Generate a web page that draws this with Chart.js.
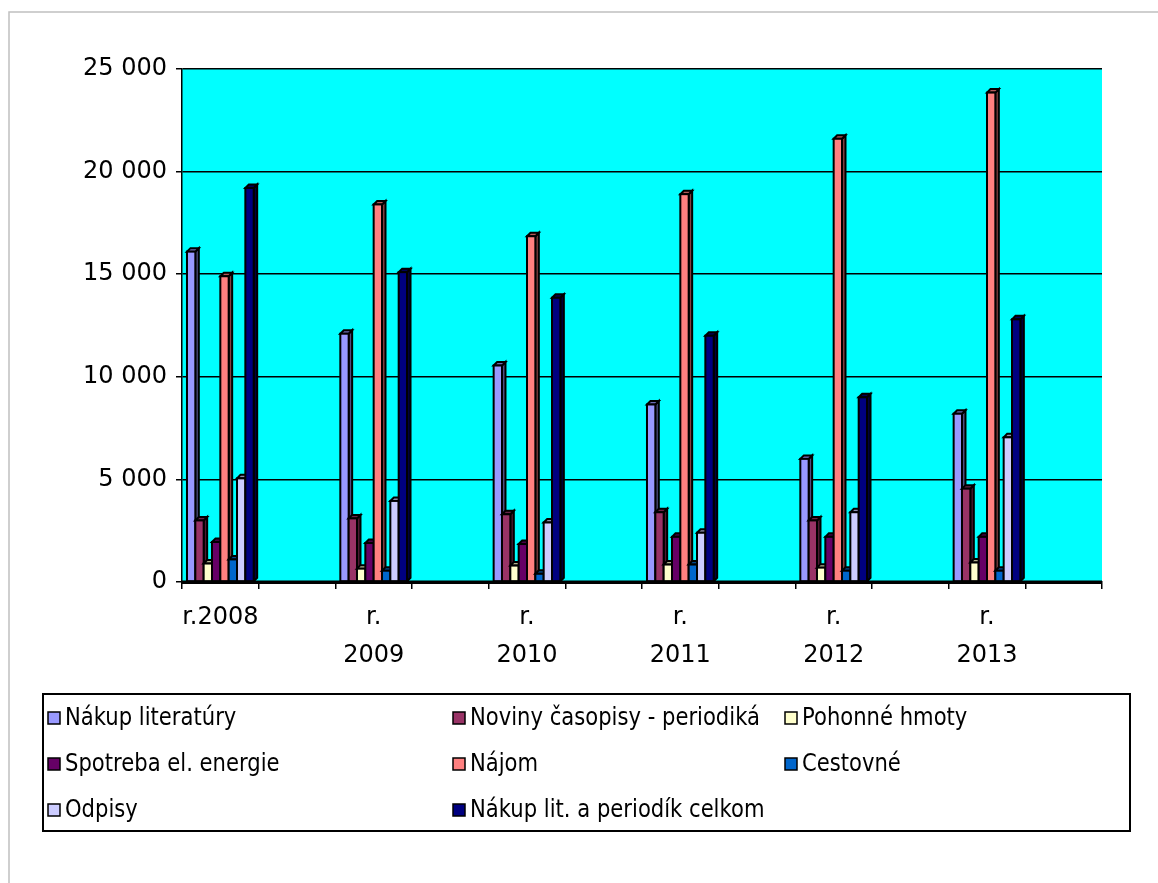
<!DOCTYPE html>
<html>
<head>
<meta charset="utf-8">
<script src="https://cdn.jsdelivr.net/npm/chart.js@4"></script>
<style>
  html, body { margin: 0; padding: 0; background: #ffffff; }
  #wrap { width: 1158px; height: 883px; position: relative; }
</style>
</head>
<body>
<div id="wrap"><canvas id="c" width="1158" height="883"></canvas></div>
<script>
// ---- data ----
const years = ["r.2008", "r. 2009", "r. 2010", "r. 2011", "r. 2012", "r. 2013"];
const seriesNames = [
  "Nákup literatúry",
  "Noviny časopisy - periodiká",
  "Pohonné hmoty",
  "Spotreba el. energie",
  "Nájom",
  "Cestovné",
  "Odpisy",
  "Nákup lit. a periodík celkom"
];
const nakupLiteratury = [16100, 12100, 10550, 8650, 6000, 8200];
const novinyCasopisy  = [3000, 3100, 3300, 3400, 3000, 4550];
const pohonneHmoty    = [900, 650, 800, 850, 700, 950];
const spotrebaEnergie = [1950, 1900, 1850, 2200, 2200, 2200];
const najom           = [14900, 18400, 16850, 18900, 21600, 23850];
const cestovne        = [1100, 550, 400, 850, 550, 550];
const odpisy          = [5050, 3950, 2900, 2400, 3400, 7050];
const celkom          = [19200, 15100, 13850, 12000, 9000, 12800];
const yTicks = [0, 5000, 10000, 15000, 20000, 25000];

const seriesValues = [nakupLiteratury, novinyCasopisy, pohonneHmoty, spotrebaEnergie, najom, cestovne, odpisy, celkom];
const seriesColors = ["#9999FF", "#993366", "#FFFFCC", "#660066", "#FF8080", "#0066CC", "#CCCCFF", "#000080"];

// Each year occupies a slot followed by an empty slot (as in the original)
const xLabels = [];
years.forEach(y => { xLabels.push(y.includes(" ") ? y.split(" ") : y); xLabels.push(""); });
function expand(arr) { const out = []; arr.forEach(v => { out.push(v); out.push(null); }); return out; }

function shade(hex, f) {
  const n = parseInt(hex.slice(1), 16);
  const r = Math.round(((n >> 16) & 255) * f), g = Math.round(((n >> 8) & 255) * f), b = Math.round((n & 255) * f);
  return "rgb(" + r + "," + g + "," + b + ")";
}
function fmt(v) { return String(v).replace(/\B(?=(\d{3})+(?!\d))/g, " "); }

const FONT = "'DejaVu Sans', Verdana, sans-serif";

const bgPlugin = {
  id: "bg",
  beforeDraw(chart) {
    const ctx = chart.ctx, a = chart.chartArea;
    ctx.save();
    ctx.fillStyle = "#ffffff";
    ctx.fillRect(0, 0, chart.width, chart.height);
    ctx.strokeStyle = "#c0c0c0";
    ctx.lineWidth = 1.5;
    ctx.strokeRect(9, 12, 1200, 1000);
    ctx.fillStyle = "#00FFFF";
    ctx.fillRect(a.left, a.top, a.right - a.left, a.bottom - a.top);
    ctx.restore();
  }
};

const bars3d = {
  id: "bars3d",
  afterDatasetsDraw(chart) {
    const ctx = chart.ctx, d = 3.5;
    ctx.save();
    ctx.lineWidth = 2;
    ctx.strokeStyle = "#000000";
    ctx.lineJoin = "miter";
    const n = chart.data.labels.length;
    for (let j = 0; j < n; j++) {
      chart.data.datasets.forEach((ds, i) => {
        if (ds.data[j] == null) return;
        const el = chart.getDatasetMeta(i).data[j];
        if (!el) return;
        const p = el.getProps(["x", "y", "base", "width"], true);
        const l = p.x - p.width / 2, r = p.x + p.width / 2, t = p.y, b = p.base;
        const col = ds.backgroundColor;
        // side face
        ctx.beginPath();
        ctx.moveTo(r, t); ctx.lineTo(r + d, t - d); ctx.lineTo(r + d, b - d); ctx.lineTo(r, b); ctx.closePath();
        ctx.fillStyle = shade(col, 0.5); ctx.fill(); ctx.stroke();
        // top face
        ctx.beginPath();
        ctx.moveTo(l, t); ctx.lineTo(l + d, t - d); ctx.lineTo(r + d, t - d); ctx.lineTo(r, t); ctx.closePath();
        ctx.fillStyle = shade(col, 0.7); ctx.fill(); ctx.stroke();
        // front face
        ctx.fillStyle = col;
        ctx.fillRect(l, t, p.width, b - t);
        ctx.strokeRect(l, t, p.width, b - t);
      });
    }
    // floor edge
    const a = chart.chartArea;
    ctx.beginPath();
    ctx.lineWidth = 3;
    ctx.moveTo(a.left, a.bottom); ctx.lineTo(a.right, a.bottom);
    ctx.stroke();
    ctx.restore();
  }
};

const legendBox = {
  id: "legendBox",
  afterDraw(chart) {
    const ctx = chart.ctx;
    ctx.save();
    ctx.strokeStyle = "#000000";
    ctx.lineWidth = 2;
    ctx.strokeRect(43, 694, 1087, 137);
    const colX = [48, 453, 785];
    const rowY = [718, 764, 810];
    ctx.font = "24px " + FONT;
    ctx.textBaseline = "middle";
    ctx.textAlign = "left";
    chart.data.datasets.forEach((ds, i) => {
      const cx = colX[i % 3], cy = rowY[Math.floor(i / 3)];
      const s = 12;
      ctx.fillStyle = ds.backgroundColor;
      ctx.fillRect(cx, cy - s / 2, s, s);
      ctx.lineWidth = 1.5;
      ctx.strokeRect(cx, cy - s / 2, s, s);
      ctx.fillStyle = "#000000";
      // slightly condensed text to mimic the narrow original face
      ctx.save();
      ctx.translate(cx + 17, cy + 1);
      ctx.scale(0.88, 1);
      ctx.fillText(ds.label, 0, 0);
      ctx.restore();
    });
    ctx.restore();
  }
};

new Chart(document.getElementById("c"), {
  type: "bar",
  data: {
    labels: xLabels,
    datasets: seriesNames.map((name, i) => ({
      label: name,
      data: expand(seriesValues[i]),
      backgroundColor: seriesColors[i],
      borderWidth: 0,
      barPercentage: 1.0,
      categoryPercentage: 0.87
    }))
  },
  options: {
    responsive: false,
    animation: false,
    devicePixelRatio: 1,
    layout: { padding: { left: 0, right: 56, top: 69, bottom: 201 } },
    plugins: { legend: { display: false }, tooltip: { enabled: false } },
    scales: {
      x: {
        grid: { display: true, drawOnChartArea: false, drawTicks: true, tickLength: 7, color: "#000000", lineWidth: 1.5, offset: true },
        border: { display: true, color: "#000000", width: 3 },
        ticks: {
          autoSkip: false, maxRotation: 0, minRotation: 0, color: "#000000", padding: 10,
          font: { family: FONT, size: 24, lineHeight: 1.58 }
        },
        afterFit(s) { s.height = 100; }
      },
      y: {
        min: 0, max: 25000,
        afterBuildTicks(s) { s.ticks = yTicks.map(v => ({ value: v })); },
        ticks: { color: "#000000", padding: 9, font: { family: FONT, size: 24 }, callback: v => fmt(v) },
        grid: { color: "#000000", lineWidth: 1.5, tickLength: 6 },
        border: { display: true, color: "#000000", width: 1.5 },
        afterFit(s) { s.width = 182; }
      }
    }
  },
  plugins: [bgPlugin, bars3d, legendBox]
});
</script>
</body>
</html>
